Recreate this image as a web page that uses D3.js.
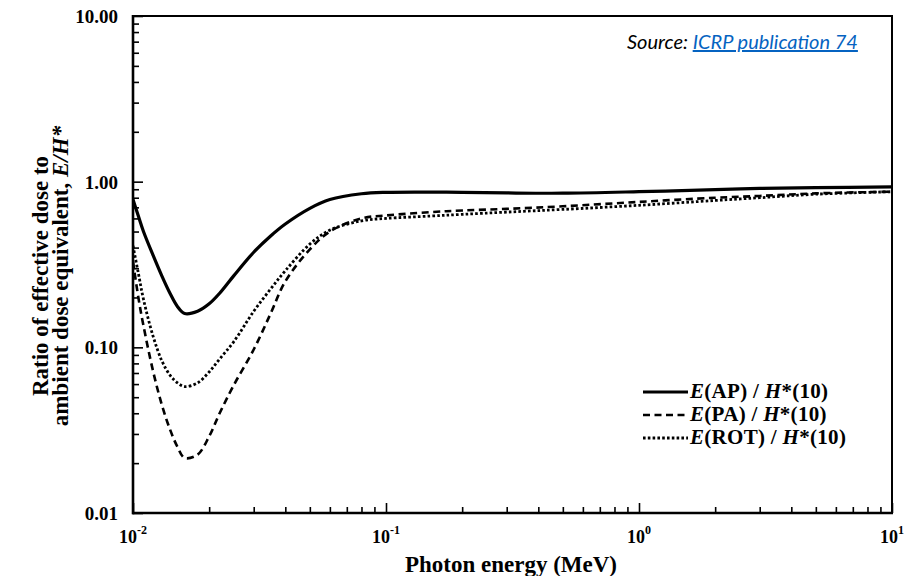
<!DOCTYPE html>
<html><head><meta charset="utf-8">
<script src="https://cdn.jsdelivr.net/npm/d3@7"></script>
<style>body{margin:0;background:#fff}</style>
</head><body><svg id="c" width="920" height="576"></svg>
<script>
// ---- data ----
const energy   = [0.01, 0.0105, 0.011, 0.012, 0.013, 0.014, 0.015, 0.016, 0.018, 0.02, 0.022, 0.025, 0.03, 0.035, 0.04, 0.05, 0.06, 0.08, 0.1, 0.15, 0.2, 0.3, 0.5, 1, 2, 3, 5, 10];
const apRatio  = [0.78, 0.62, 0.50, 0.36, 0.27, 0.212, 0.176, 0.160, 0.165, 0.183, 0.212, 0.27, 0.375, 0.47, 0.555, 0.69, 0.78, 0.845, 0.862, 0.865, 0.862, 0.855, 0.852, 0.87, 0.895, 0.91, 0.92, 0.93];
const paRatio  = [0.33, 0.20, 0.135, 0.072, 0.045, 0.032, 0.025, 0.0215, 0.0225, 0.029, 0.040, 0.059, 0.097, 0.16, 0.25, 0.39, 0.50, 0.60, 0.625, 0.655, 0.67, 0.685, 0.71, 0.755, 0.80, 0.82, 0.85, 0.87];
const rotRatio = [0.41, 0.28, 0.195, 0.117, 0.083, 0.068, 0.061, 0.058, 0.061, 0.071, 0.085, 0.108, 0.165, 0.225, 0.29, 0.42, 0.51, 0.58, 0.60, 0.62, 0.635, 0.655, 0.68, 0.72, 0.77, 0.80, 0.84, 0.87];
const yTickValues = [0.01, 0.1, 1, 10];
const yTickLabels = ["0.01", "0.10", "1.00", "10.00"];
const xTickValues = [0.01, 0.1, 1, 10];
const xTickExponents = ["-2", "-1", "0", "1"];
const seriesKeys = ["AP", "PA", "ROT"];

const svg = d3.select("#c");
const serif = "'Liberation Serif', 'Times New Roman', serif";
const L = 133, R = 892, T = 16, B = 513;
const x = d3.scaleLog().domain([0.01, 10]).range([L, R]);
const y = d3.scaleLog().domain([0.01, 10]).range([B, T]);

// minor + major tick positions
const allTicks = [];
[0.01, 0.1, 1].forEach(d => { for (let k = 1; k < 10; k++) allTicks.push(+(d * k).toPrecision(3)); });
allTicks.push(10);
const isMajor = v => xTickValues.some(m => Math.abs(m - v) < 1e-9);

// bottom ticks (inward)
const gx = svg.append("g").attr("transform", `translate(0,${B})`)
  .call(d3.axisBottom(x).tickValues(allTicks).tickSize(-5).tickFormat(""));
gx.select(".domain").remove();
gx.selectAll(".tick line").attr("stroke", "#000").attr("stroke-width", 1.6)
  .attr("y2", d => isMajor(d) ? -10 : -6);

// left ticks (inward)
const gy = svg.append("g").attr("transform", `translate(${L},0)`)
  .call(d3.axisLeft(y).tickValues(allTicks).tickSize(-5).tickFormat(""));
gy.select(".domain").remove();
gy.selectAll(".tick line").attr("stroke", "#000").attr("stroke-width", 1.6)
  .attr("x2", d => isMajor(d) ? 10 : 6);

// frame
svg.append("line").attr("x1", L).attr("x2", L).attr("y1", T - 1).attr("y2", B + 1.2).attr("stroke", "#000").attr("stroke-width", 2.6);
svg.append("line").attr("x1", L - 1).attr("x2", R + 1).attr("y1", B).attr("y2", B).attr("stroke", "#000").attr("stroke-width", 2.6);
svg.append("line").attr("x1", L).attr("x2", R + 1).attr("y1", T).attr("y2", T).attr("stroke", "#000").attr("stroke-width", 2);
svg.append("line").attr("x1", R).attr("x2", R).attr("y1", T - 1).attr("y2", B + 1).attr("stroke", "#000").attr("stroke-width", 2);

// y tick labels
svg.append("g").selectAll("text").data(yTickValues).join("text")
  .attr("x", 118).attr("y", d => y(d) + 7)
  .attr("text-anchor", "end").attr("font-family", serif).attr("font-weight", "bold").attr("font-size", 19)
  .text((d, i) => yTickLabels[i]);

// x tick labels (10^n)
const xl = svg.append("g").selectAll("text").data(xTickValues).join("text")
  .attr("x", d => x(d)).attr("y", 543)
  .attr("text-anchor", "middle").attr("font-family", serif).attr("font-weight", "bold").attr("font-size", 18);
xl.append("tspan").text("10");
xl.append("tspan").attr("dy", -9).attr("font-size", 12).text((d, i) => xTickExponents[i]);

// axis titles
svg.append("text").attr("x", 511).attr("y", 572).attr("text-anchor", "middle")
  .attr("font-family", serif).attr("font-weight", "bold").attr("font-size", 23).text("Photon energy (MeV)");
const yt = svg.append("text").attr("transform", "translate(0,276) rotate(-90)")
  .attr("text-anchor", "middle").attr("font-family", serif).attr("font-weight", "bold").attr("font-size", 23);
yt.append("tspan").attr("x", 0).attr("y", 48).text("Ratio of effective dose to");
const l2 = yt.append("tspan").attr("x", 0).attr("y", 68);
l2.text("ambient dose equivalent, ");
yt.append("tspan").attr("font-style", "italic").text("E/H*");

// curves
const series = [
  {key: "AP", vals: apRatio, dash: null, w: 3.2},
  {key: "PA", vals: paRatio, dash: "7,4.5", w: 2.6},
  {key: "ROT", vals: rotRatio, dash: "2.6,2.2", w: 2.8}
];
svg.append("clipPath").attr("id", "clip").append("rect").attr("x", L).attr("y", T).attr("width", R - L).attr("height", B - T);
const line = d3.line().x(d => x(d[0])).y(d => y(d[1])).curve(d3.curveCatmullRom.alpha(0.5));
const gc = svg.append("g").attr("clip-path", "url(#clip)");
series.forEach(s => {
  gc.append("path").datum(energy.map((e, i) => [e, s.vals[i]]))
    .attr("d", line).attr("fill", "none").attr("stroke", "#000")
    .attr("stroke-width", s.w).attr("stroke-dasharray", s.dash);
});

// legend
const legY = [392, 415, 438];
series.forEach((s, i) => {
  svg.append("line").attr("x1", 643).attr("x2", 688).attr("y1", legY[i]).attr("y2", legY[i])
    .attr("stroke", "#000").attr("stroke-width", s.w).attr("stroke-dasharray", s.dash);
  const t = svg.append("text").attr("x", 690).attr("y", legY[i] + 6)
    .attr("font-family", serif).attr("font-weight", "bold").attr("font-size", 21).attr("letter-spacing", 0.3);
  t.append("tspan").attr("font-style", "italic").text("E");
  t.append("tspan").text(`(${seriesKeys[i]}) / `);
  t.append("tspan").attr("font-style", "italic").text("H");
  t.append("tspan").text("*(10)");
});

// source note
const src = svg.append("text").attr("x", 627).attr("y", 49)
  .attr("font-family", "Lato, 'Open Sans', sans-serif").attr("font-style", "italic").attr("font-size", 20);
src.append("tspan").attr("fill", "#000").text("Source: ");
src.append("tspan").attr("fill", "#0563C1").attr("text-decoration", "underline").text("ICRP publication 74");
</script>
</body></html>
